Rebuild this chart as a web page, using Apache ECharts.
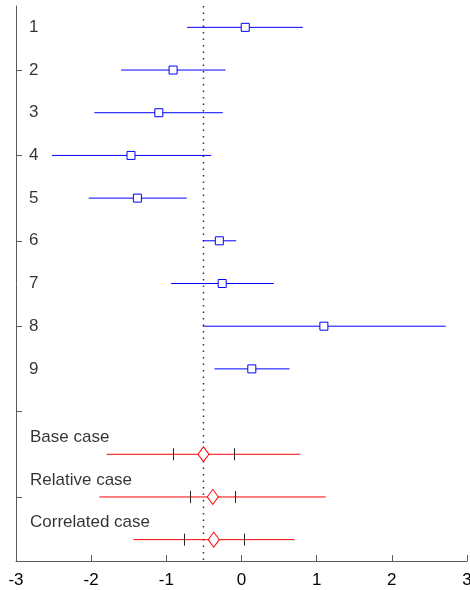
<!DOCTYPE html>
<html>
<head>
<meta charset="utf-8">
<script src="https://cdn.jsdelivr.net/npm/echarts@6/dist/echarts.min.js"></script>
<style>
html,body{margin:0;padding:0;background:#fff;}
#chart{width:470px;height:590px;}
</style>
</head>
<body>
<div id="chart"></div>
<script>
// Study rows (positions 1..9)
const studyLabels = ['1','2','3','4','5','6','7','8','9'];
const studyRows = [1,2,3,4,5,6,7,8,9];
const studyEst = [0.05, -0.91, -1.10, -1.47, -1.385, -0.295, -0.257, 1.096, 0.137];
const studyLo  = [-0.723, -1.602, -1.957, -2.521, -2.033, -0.515, -0.936, -0.515, -0.36];
const studyHi  = [0.816, -0.213, -0.249, -0.403, -0.728, -0.071, 0.43, 2.716, 0.639];

// Pooled cases (positions 11..13)
const caseLabels = ['Base case','Relative case','Correlated case'];
const caseRows = [11,12,13];
const caseEst = [-0.506, -0.382, -0.369];
const caseLo  = [-1.794, -1.891, -1.438];
const caseHi  = [0.782, 1.119, 0.706];
const caseInnerLo = [-0.91, -0.683, -0.759];
const caseInnerHi = [-0.103, -0.084, 0.027];

const refValue = -0.506;
const xTicks = [-3,-2,-1,0,1,2,3];
const yTickRows = [2,4,6,8,10,12];

const FONT = 'Liberation Sans, Arial, sans-serif';

const chart = echarts.init(document.getElementById('chart'), null, {renderer:'canvas'});

function whiskerRender(color, withInner){
  return function(params, api){
    const y = api.value(0);
    const p1 = api.coord([api.value(1), y]);
    const p2 = api.coord([api.value(2), y]);
    const children = [{
      type:'line',
      shape:{x1:p1[0], y1:p1[1], x2:p2[0], y2:p2[1]},
      style:{stroke:color, lineWidth:1}
    }];
    if (withInner){
      [3,4].forEach(function(i){
        const p = api.coord([api.value(i), y]);
        const xx = Math.round(p[0]) + 0.5;
        children.push({
          type:'line',
          shape:{x1:xx, y1:p[1]-6, x2:xx, y2:p[1]+6},
          style:{stroke:'#222', lineWidth:1}
        });
      });
    }
    return {type:'group', children:children};
  };
}

const studyWhiskers = studyRows.map((r,i)=>[r, studyLo[i], studyHi[i]]);
const caseWhiskers = caseRows.map((r,i)=>[r, caseLo[i], caseHi[i], caseInnerLo[i], caseInnerHi[i]]);

const option = {
  backgroundColor:'#fff',
  animation:false,
  grid:{left:16, top:6, width:451, height:555, containLabel:false, outerBoundsMode:'none'},
  xAxis:{
    type:'value', min:-3, max:3, interval:1,
    axisLine:{show:true, onZero:false, lineStyle:{color:'#5a5a5a', width:1}},
    axisTick:{show:true, inside:true, length:6, lineStyle:{color:'#5a5a5a'}},
    axisLabel:{show:true, color:'#000', fontSize:17, fontFamily:FONT, margin:11,
      formatter:function(v){return String(v);} , showMinLabel:true, showMaxLabel:true},
    splitLine:{show:false}
  },
  yAxis:{
    type:'value', min:0.5, max:13.5, inverse:true,
    axisLine:{show:true, onZero:false, lineStyle:{color:'#5a5a5a', width:1}},
    axisTick:{show:true, inside:true, length:6, customValues:yTickRows, lineStyle:{color:'#5a5a5a'}},
    axisLabel:{show:false},
    splitLine:{show:false}
  },
  series:[
    {
      type:'line',
      data:[[refValue,0.5],[refValue,13.5]],
      symbol:'none',
      lineStyle:{color:'#333', width:1.5, type:[1.5,5]},
      z:1,
      silent:true
    },
    {
      type:'custom',
      renderItem:whiskerRender('#0000ff', false),
      data:studyWhiskers,
      encode:{x:[1,2], y:0},
      z:2
    },
    {
      type:'custom',
      renderItem:whiskerRender('#ff0000', true),
      data:caseWhiskers,
      encode:{x:[1,2,3,4], y:0},
      z:2
    },
    {
      type:'scatter',
      data:studyRows.map((r,i)=>[studyEst[i], r]),
      symbol:'rect',
      symbolSize:8,
      itemStyle:{color:'#fff', borderColor:'#0000ff', borderWidth:1, opacity:1},
      z:3
    },
    {
      type:'scatter',
      data:caseRows.map((r,i)=>[caseEst[i], r]),
      symbol:'diamond',
      symbolSize:[11,15],
      itemStyle:{color:'#fff', borderColor:'#ff0000', borderWidth:1, opacity:1},
      z:3
    },
    {
      type:'scatter',
      data:studyRows.map((r,i)=>({value:[-3, r], name:studyLabels[i]})),
      symbolSize:0,
      label:{show:true, position:'right', distance:13, formatter:'{b}',
        color:'#000', fontSize:17, fontFamily:FONT},
      silent:true,
      z:4
    },
    {
      type:'scatter',
      data:caseRows.map((r,i)=>({value:[-3, r], name:caseLabels[i]})),
      symbolSize:0,
      label:{show:true, position:'right', distance:14, offset:[0,-17], formatter:'{b}',
        color:'#000', fontSize:17, fontFamily:FONT},
      silent:true,
      z:4
    }
  ]
};
chart.setOption(option);
</script>
</body>
</html>
